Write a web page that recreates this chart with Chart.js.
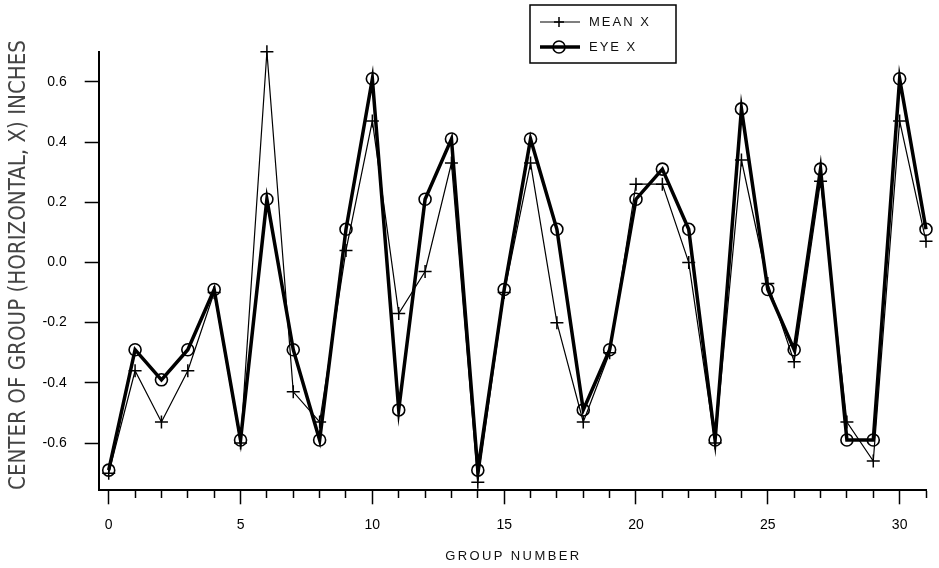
<!DOCTYPE html>
<html>
<head>
<meta charset="utf-8">
<script src="https://cdn.jsdelivr.net/npm/chart.js@4"></script>
<style>
  html, body { margin: 0; padding: 0; background: #fff; }
  canvas { display: block; }
</style>
</head>
<body>
<canvas id="chart" width="939" height="568"></canvas>
<script>
// Group numbers along the horizontal axis
const groups = [0, 1, 2, 3, 4, 5, 6, 7, 8, 9, 10, 11, 12, 13, 14, 15,
                16, 17, 18, 19, 20, 21, 22, 23, 24, 25, 26, 27, 28, 29, 30, 31];

// Mean horizontal centre of each group (inches)
const meanX = [-0.70, -0.36, -0.53, -0.36, -0.10, -0.60, 0.70, -0.43,
               -0.53, 0.04, 0.47, -0.17, -0.03, 0.33, -0.73, -0.10,
               0.33, -0.20, -0.53, -0.30, 0.26, 0.26, 0.00, -0.60,
               0.34, -0.07, -0.33, 0.27, -0.53, -0.66, 0.47, 0.07];

// Eye-estimated horizontal centre of each group (inches)
const eyeX = [-0.69, -0.29, -0.39, -0.29, -0.09, -0.59, 0.21, -0.29,
              -0.59, 0.11, 0.61, -0.49, 0.21, 0.41, -0.69, -0.09,
              0.41, 0.11, -0.49, -0.29, 0.21, 0.31, 0.11, -0.59,
              0.51, -0.09, -0.29, 0.31, -0.59, -0.59, 0.61, 0.11];

// Labelled ticks
const xLabelledTicks = [0, 5, 10, 15, 20, 25, 30];
const yTicks = [-0.6, -0.4, -0.2, 0.0, 0.2, 0.4, 0.6];

const seriesNames = ['MEAN X', 'EYE X'];
const xTitle = 'GROUP NUMBER';
const yTitle = 'CENTER OF GROUP (HORIZONTAL, X) INCHES';

const TEXT_FONT = "'Liberation Sans', Arial, sans-serif";
Chart.defaults.font.family = TEXT_FONT;
Chart.defaults.color = '#000';

const toPoints = ys => groups.map((g, i) => ({ x: g, y: ys[i] }));

// Axis titles drawn with letter spacing
const axisTitles = {
  id: 'axisTitles',
  afterDraw(chart) {
    const ctx = chart.ctx;
    const x = chart.scales.x;
    const area = chart.chartArea;

    ctx.save();
    ctx.fillStyle = '#111';
    ctx.font = '13px ' + TEXT_FONT;
    ctx.letterSpacing = '2.4px';
    ctx.textAlign = 'center';
    ctx.textBaseline = 'alphabetic';
    ctx.fillText(xTitle, (x.left + x.right) / 2 + 1, 560);
    ctx.restore();

    ctx.save();
    ctx.fillStyle = '#444';
    ctx.font = "23px 'Liberation Sans Narrow', 'DejaVu Sans Condensed', sans-serif";
    ctx.textAlign = 'center';
    ctx.textBaseline = 'alphabetic';
    const w = ctx.measureText(yTitle).width;
    ctx.translate(25, 265);
    ctx.rotate(-Math.PI / 2);
    ctx.scale(450 / w, 1);
    ctx.fillText(yTitle, 0, 0);
    ctx.restore();
  }
};

// Boxed legend using each dataset's own line and point style
const boxedLegend = {
  id: 'boxedLegend',
  afterDraw(chart) {
    const ctx = chart.ctx;
    const box = { left: 530, top: 5, right: 676, bottom: 63 };
    ctx.save();
    ctx.strokeStyle = '#000';
    ctx.lineWidth = 1.5;
    ctx.strokeRect(box.left, box.top, box.right - box.left, box.bottom - box.top);

    const rows = [22, 47];
    chart.data.datasets.forEach((ds, i) => {
      const y = rows[i];
      ctx.beginPath();
      ctx.strokeStyle = ds.borderColor;
      ctx.lineWidth = ds.borderWidth;
      ctx.moveTo(540, y);
      ctx.lineTo(580, y);
      ctx.stroke();
      ctx.fillStyle = 'rgba(0,0,0,0)';
      ctx.strokeStyle = ds.pointBorderColor;
      ctx.lineWidth = ds.pointBorderWidth;
      Chart.helpers.drawPoint(ctx, {
        pointStyle: ds.pointStyle,
        radius: ds.pointStyle === 'cross' ? 5 : 6,
        borderWidth: ds.pointBorderWidth,
        rotation: 0
      }, 559, y);

      ctx.fillStyle = '#111';
      ctx.font = '13px ' + TEXT_FONT;
      ctx.letterSpacing = '2px';
      ctx.textAlign = 'left';
      ctx.textBaseline = 'middle';
      ctx.fillText(ds.label, 589, y + 0.5);
      ctx.letterSpacing = '0px';
    });
    ctx.restore();
  }
};

new Chart(document.getElementById('chart'), {
  type: 'line',
  data: {
    datasets: [
      {
        label: seriesNames[0],
        data: toPoints(meanX),
        borderColor: '#000',
        borderWidth: 1.2,
        pointStyle: 'cross',
        pointRadius: 6.5,
        pointBorderColor: '#000',
        pointBorderWidth: 1.5,
        pointBackgroundColor: 'rgba(0,0,0,0)',
        tension: 0,
        clip: false
      },
      {
        label: seriesNames[1],
        data: toPoints(eyeX),
        borderColor: '#000',
        borderWidth: 3.5,
        pointStyle: 'circle',
        pointRadius: 6,
        pointBorderColor: '#000',
        pointBorderWidth: 1.6,
        pointBackgroundColor: 'rgba(0,0,0,0)',
        tension: 0,
        clip: false
      }
    ]
  },
  options: {
    responsive: false,
    animation: false,
    events: [],
    layout: { padding: { left: 0, right: 13, top: 51.7, bottom: 0 } },
    plugins: {
      legend: { display: false },
      tooltip: { enabled: false },
      title: { display: false }
    },
    scales: {
      x: {
        type: 'linear',
        position: 'bottom',
        min: -0.38,
        max: 31,
        afterFit: s => { s.height = 77.7; },
        afterBuildTicks: s => { s.ticks = groups.map(v => ({ value: v })); },
        border: { display: true, color: '#000', width: 2 },
        grid: {
          drawOnChartArea: false,
          drawTicks: true,
          tickLength: 14,
          tickWidth: 1.5,
          tickColor: '#000',
          tickBorderDash: c => (c.tick && xLabelledTicks.includes(c.tick.value)) ? [] : [7, 40]
        },
        ticks: {
          autoSkip: false,
          maxRotation: 0,
          padding: 12,
          color: '#000',
          font: { size: 14 },
          callback: v => xLabelledTicks.includes(v) ? String(v) : ''
        }
      },
      y: {
        type: 'linear',
        min: -0.757,
        max: 0.70,
        afterFit: s => { s.width = 98.7; },
        afterBuildTicks: s => { s.ticks = yTicks.map(v => ({ value: v })); },
        border: { display: true, color: '#000', width: 2 },
        grid: {
          drawOnChartArea: false,
          drawTicks: true,
          tickLength: 14,
          tickWidth: 1.5,
          tickColor: '#000'
        },
        ticks: {
          padding: 18,
          color: '#000',
          font: { size: 14 },
          callback: v => Number(v).toFixed(1)
        }
      }
    }
  },
  plugins: [axisTitles, boxedLegend]
});
</script>
</body>
</html>
